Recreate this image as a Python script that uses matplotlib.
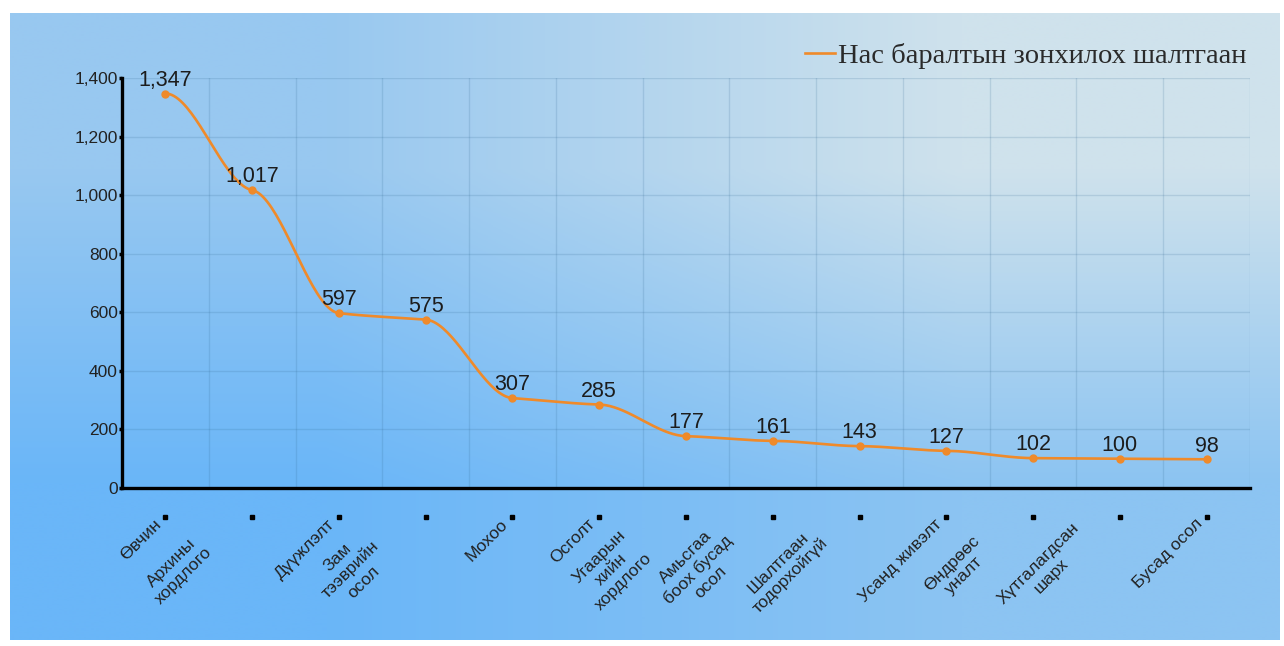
"""
Line chart: main causes of death (Mongolian labels), smoothed orange line
"""

import numpy as np
import matplotlib
matplotlib.use("Agg")
import matplotlib.pyplot as plt
from matplotlib.ticker import StrMethodFormatter

# --- Data ---
CAUSES = [
    "Өвчин",
    "Архины\nхордлого",
    "Дүүжлэлт",
    "Зам\nтээврийн\nосол",
    "Мохоо",
    "Осголт",
    "Угаарын\nхийн\nхордлого",
    "Амьсгаа\nбоох бусад\nосол",
    "Шалтгаан\nтодорхойгүй",
    "Усанд живэлт",
    "Өндрөөс\nуналт",
    "Хүтгалагдсан\nшарх",
    "Бусад осол",
]
DEATHS = [1347, 1017, 597, 575, 307, 285, 177, 161, 143, 127, 102, 100, 98]
SERIES_NAME = "Нас баралтын зонхилох шалтгаан"
Y_TICKS = [0, 200, 400, 600, 800, 1000, 1200, 1400]

LINE_COLOR = "#ef8a2a"
TEXT_COLOR = "#222222"
SANS = ["Liberation Sans", "DejaVu Sans"]
SERIF = ["Liberation Serif", "DejaVu Serif"]


def smooth_curve(y, tension=0.15, steps=40):
    """Hermite curve through the points with damped tangents (for drawing only)."""
    y = np.asarray(y, dtype=float)
    n = len(y)
    m = np.empty(n)
    m[1:-1] = (y[2:] - y[:-2]) / 2
    m[0] = 0.0
    m[-1] = 0.0
    m *= tension
    xs, ys = [], []
    for i in range(n - 1):
        t = np.linspace(0, 1, steps, endpoint=(i == n - 2))
        h00 = 2 * t**3 - 3 * t**2 + 1
        h10 = t**3 - 2 * t**2 + t
        h01 = -2 * t**3 + 3 * t**2
        h11 = t**3 - t**2
        xs.append(i + t)
        ys.append(h00 * y[i] + h10 * m[i] + h01 * y[i + 1] + h11 * m[i + 1])
    return np.concatenate(xs), np.concatenate(ys)


fig = plt.figure(figsize=(12.84, 6.46), dpi=100)
fig.patch.set_facecolor("white")

# --- gradient background panel ---
bg = fig.add_axes([10 / 1284, 6 / 646, 1270 / 1284, 627 / 646])
corners = np.array([
    [[152, 200, 240], [207, 226, 236]],
    [[106, 182, 248], [140, 196, 242]],
]) / 255.0
bg.imshow(corners, interpolation="bilinear", aspect="auto", extent=[0, 1, 0, 1])
bg.set_axis_off()

# --- main axes ---
ax = fig.add_axes([122 / 1284, 1 - 488 / 646, 1128 / 1284, 410 / 646])
ax.set_facecolor("none")
x_idx = np.arange(len(CAUSES))

sx, sy = smooth_curve(DEATHS)
ax.plot(sx, sy, color=LINE_COLOR, lw=1.9, label=SERIES_NAME, zorder=3)
ax.plot(x_idx, DEATHS, ls="none", marker="o", ms=5, color=LINE_COLOR, zorder=4)

for xi, v in zip(x_idx, DEATHS):
    ax.annotate(f"{v:,}", (xi, v), xytext=(0, 2), textcoords="offset points",
                ha="center", va="bottom", fontsize=15.5, color="#1c1c1c",
                family=SANS, zorder=5)

ax.set_xlim(-0.5, len(CAUSES) - 0.5)
ax.set_ylim(0, 1400)
ax.set_yticks(Y_TICKS)
ax.yaxis.set_major_formatter(StrMethodFormatter("{x:,.0f}"))
ax.set_xticks(x_idx + 0.5)
ax.set_xticklabels([])
ax.tick_params(axis="x", length=0)

# grid: horizontal at y ticks, vertical between categories
ax.grid(True, color="#2f6690", alpha=0.17, lw=1)
ax.tick_params(axis="y", length=2, width=2.5, pad=1, labelsize=12.5,
               labelcolor=TEXT_COLOR)
for lbl in ax.get_yticklabels():
    lbl.set_family(SANS)

# small square dots under the axis at each category, labels hang off them
xa = ax.get_xaxis_transform()
ax.plot(x_idx, np.full(len(x_idx), -0.07), ls="none", marker="s", ms=2.6,
        color="black", transform=xa, clip_on=False)
for xi, name in zip(x_idx, CAUSES):
    if "\n" in name:
        # wrapped labels: centred block further down-left
        ax.annotate(name, (xi, -0.07), xycoords=xa, xytext=(-54, -38),
                    textcoords="offset points", ha="center", va="center",
                    rotation=45, rotation_mode="anchor", multialignment="center",
                    fontsize=12.5, color=TEXT_COLOR, family=SANS,
                    annotation_clip=False)
    else:
        ax.annotate(name, (xi, -0.07), xycoords=xa, xytext=(-5, -3.5),
                    textcoords="offset points", ha="right", va="center",
                    rotation=45, rotation_mode="anchor",
                    fontsize=12.5, color=TEXT_COLOR, family=SANS,
                    annotation_clip=False)

for side in ["top", "right"]:
    ax.spines[side].set_visible(False)
for side in ["left", "bottom"]:
    ax.spines[side].set_linewidth(2.4)
    ax.spines[side].set_color("black")

ax.legend(loc="center right", bbox_to_anchor=(1246 / 1284, 1 - 56 / 646),
          bbox_transform=fig.transFigure, frameon=False, handlelength=1.05,
          handletextpad=0.1, borderpad=0, borderaxespad=0,
          prop={"family": SERIF, "size": 20.5}, labelcolor="#2a2a2a")

fig.savefig("out.png", dpi=100)
